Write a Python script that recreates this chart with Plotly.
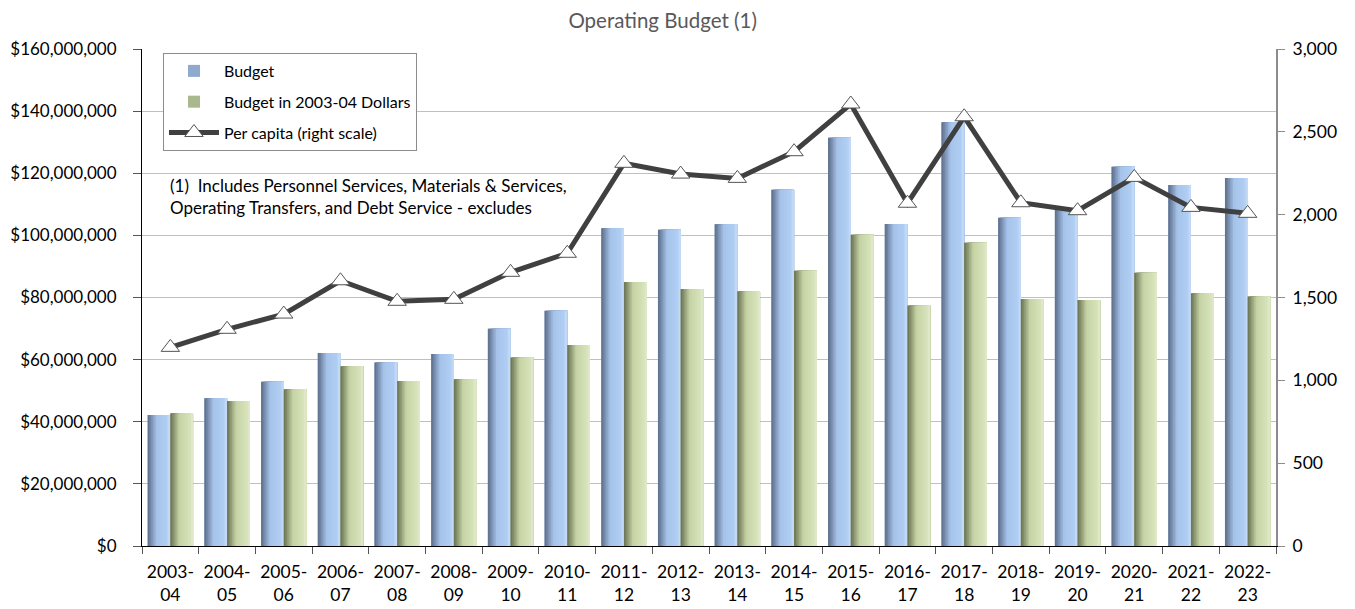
import plotly.graph_objects as go

# ---------------- data ----------------
years = ["2003-<br>04", "2004-<br>05", "2005-<br>06", "2006-<br>07", "2007-<br>08",
         "2008-<br>09", "2009-<br>10", "2010-<br>11", "2011-<br>12", "2012-<br>13",
         "2013-<br>14", "2014-<br>15", "2015-<br>16", "2016-<br>17", "2017-<br>18",
         "2018-<br>19", "2019-<br>20", "2020-<br>21", "2021-<br>22", "2022-<br>23"]

budget = [42.2e6, 47.6e6, 52.9e6, 62.1e6, 59.1e6, 61.8e6, 69.9e6, 75.7e6, 102.3e6, 101.8e6,
          103.6e6, 114.7e6, 131.4e6, 103.7e6, 136.4e6, 105.7e6, 108.4e6, 122.1e6, 116.2e6, 118.5e6]

budget_2003 = [42.7e6, 46.7e6, 50.5e6, 57.9e6, 53.1e6, 53.7e6, 60.7e6, 64.7e6, 85.0e6, 82.7e6,
               82.0e6, 88.6e6, 100.2e6, 77.4e6, 97.6e6, 79.5e6, 79.2e6, 88.0e6, 81.4e6, 80.3e6]

per_capita = [1199, 1308, 1400, 1601, 1477, 1489, 1652, 1767, 2310, 2245,
              2219, 2380, 2668, 2069, 2591, 2072, 2024, 2225, 2044, 2008]

left_ticks = [0, 20e6, 40e6, 60e6, 80e6, 100e6, 120e6, 140e6, 160e6]
left_tick_text = ["$" + format(int(v), ",") for v in left_ticks]
right_ticks = [0, 500, 1000, 1500, 2000, 2500, 3000]

title_text = "Operating Budget (1)"
note_text = "(1)&nbsp; Includes Personnel Services, Materials &amp; Services,<br>Operating Transfers, and Debt Service - excludes"

# ---------------- styling helpers ----------------
FONT = "Lato, 'Open Sans', sans-serif"
BAR_W = 0.4
N_STRIPS = 14

blue_stops = [(0.0, (0x5a, 0x6c, 0x88)), (0.40, (0xa6, 0xc3, 0xea)),
              (0.85, (0xb0, 0xce, 0xf4)), (1.0, (0xc8, 0xdd, 0xf7))]
green_stops = [(0.0, (0x66, 0x70, 0x50)), (0.40, (0xc6, 0xd3, 0xa5)),
               (0.85, (0xd6, 0xe2, 0xb9)), (1.0, (0xe0, 0xea, 0xca))]


def grad_color(stops, t):
    for (t0, c0), (t1, c1) in zip(stops[:-1], stops[1:]):
        if t0 <= t <= t1:
            f = (t - t0) / (t1 - t0) if t1 > t0 else 0
            c = [round(a + (b - a) * f) for a, b in zip(c0, c1)]
            return "rgb(%d,%d,%d)" % tuple(c)
    c = stops[-1][1]
    return "rgb(%d,%d,%d)" % c


def gradient_bars(fig, values, name, stops, start_offset, legend_color, group):
    # legend carrier (full width, covered by strips)
    fig.add_trace(go.Bar(x=years, y=values, name=name, width=BAR_W, offset=start_offset,
                         marker=dict(color=legend_color, line=dict(width=0)),
                         legendgroup=group, hoverinfo="skip"))
    for i in range(N_STRIPS):
        frac = i / N_STRIPS
        t = (i + 0.5) / N_STRIPS
        fig.add_trace(go.Bar(x=years, y=values, width=BAR_W * (1 - frac),
                             offset=start_offset + BAR_W * frac,
                             marker=dict(color=grad_color(stops, t), line=dict(width=0)),
                             showlegend=False, legendgroup=group, hoverinfo="skip"))


fig = go.Figure()
gradient_bars(fig, budget, "Budget", blue_stops, -BAR_W, "#8fa9cf", "g1")
gradient_bars(fig, budget_2003, "Budget in 2003-04 Dollars", green_stops, 0.0, "#aab88e", "g2")

fig.add_trace(go.Scatter(x=years, y=per_capita, name="Per capita (right scale)", yaxis="y2",
                         mode="lines+markers", legendgroup="g3",
                         line=dict(color="#404040", width=5),
                         marker=dict(symbol="triangle-up", size=16, color="white",
                                     line=dict(color="#555555", width=1))))

fig.update_layout(
    width=1347, height=601,
    margin=dict(l=134, r=79, t=41, b=63, autoexpand=False),
    paper_bgcolor="white", plot_bgcolor="white",
    barmode="overlay",
    font=dict(family=FONT, size=17, color="black"),
    title=dict(text=title_text, x=0.486, xanchor="center", y=0.978, yanchor="middle",
               font=dict(family=FONT, size=20.5, color="#595959")),
    xaxis=dict(type="category", showline=True, linecolor="black", linewidth=1,
               ticks="outside", tickson="boundaries", ticklen=7, tickcolor="#555555",
               showgrid=False, tickfont=dict(size=17.5), range=[-0.5, 19.5],
               tickangle=0, automargin=False, ticklabelstandoff=10),
    yaxis=dict(range=[0, 160e6], tickmode="array", tickvals=left_ticks, ticktext=left_tick_text,
               showline=True, linecolor="black", linewidth=1, ticks="outside", ticklen=8,
               tickcolor="#555555", automargin=False,
               showgrid=True, gridcolor="#c0c0c0", gridwidth=1, zeroline=False,
               tickfont=dict(size=17), ticklabelstandoff=13),
    yaxis2=dict(range=[0, 3000], tickvals=right_ticks, tickformat=",d", overlaying="y",
                side="right", showline=True, linecolor="#8c8c8c", linewidth=2,
                ticks="outside", ticklen=7, tickcolor="#8c8c8c", showgrid=False,
                automargin=False,
                zeroline=False, tickfont=dict(size=17.5), ticklabelstandoff=4),
    legend=dict(x=0.0185, y=0.992, xanchor="left", yanchor="top",
                bgcolor="white", bordercolor="#8c8c8c", borderwidth=1, itemwidth=50,
                font=dict(family=FONT, size=16), traceorder="grouped", tracegroupgap=7),
    showlegend=True,
)

fig.add_annotation(text=note_text, xref="paper", yref="paper", x=0.0229, y=0.750,
                   xanchor="left", yanchor="top", align="left", showarrow=False,
                   font=dict(family=FONT, size=17, color="black"))

fig.write_html("out.html")
